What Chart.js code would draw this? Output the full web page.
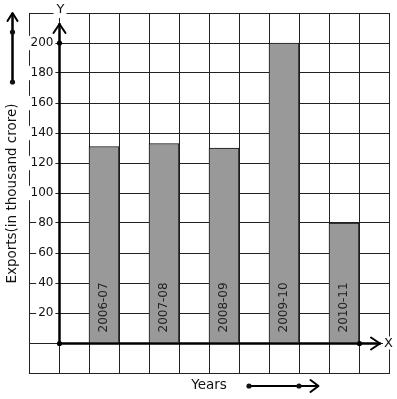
<!DOCTYPE html>
<html>
<head>
<meta charset="utf-8">
<script src="https://cdn.jsdelivr.net/npm/chart.js@4/dist/chart.umd.min.js"></script>
<style>
  html, body { margin: 0; padding: 0; background: #ffffff; }
  canvas { display: block; }
</style>
</head>
<body>
<canvas id="c" width="397" height="399"></canvas>
<script>
// ---- data ----
const years = ['2006-07', '2007-08', '2008-09', '2009-10', '2010-11'];
const exportsValues = [131, 133, 130, 200, 80];
const yTickLabels = [20, 40, 60, 80, 100, 120, 140, 160, 180, 200];
const yAxisTitle = 'Exports(in thousand crore)';
const xAxisTitle = 'Years';
const yMin = -20, yMax = 220, yStep = 20;
const slotCount = 12, firstSlot = 2, slotGap = 2;

// build the 12-column grid of categories (bars in every other column)
const slotLabels = new Array(slotCount).fill('');
const slotValues = new Array(slotCount).fill(null);
years.forEach((y, i) => {
  slotLabels[firstSlot + i * slotGap] = y;
  slotValues[firstSlot + i * slotGap] = exportsValues[i];
});

const FONT = 'DejaVu Sans';
Chart.defaults.font.family = FONT;
Chart.defaults.color = '#111';

function al(v) { return Math.round(v - 0.5) + 0.5; }

const decorPlugin = {
  id: 'decor',
  afterDatasetsDraw(chart) {
    const ctx = chart.ctx;
    const meta = chart.getDatasetMeta(0);
    ctx.save();
    ctx.font = '12px ' + FONT;
    ctx.fillStyle = '#222';
    ctx.textAlign = 'left';
    ctx.textBaseline = 'middle';
    meta.data.forEach((el, i) => {
      const lab = slotLabels[i];
      if (!lab || slotValues[i] == null) return;
      ctx.save();
      ctx.translate(el.x, el.base - 10);
      ctx.rotate(-Math.PI / 2);
      ctx.fillText(lab, 0, 0);
      ctx.restore();
    });
    ctx.restore();
  },
  afterDraw(chart) {
    const ctx = chart.ctx;
    const xs = chart.scales.x, ys = chart.scales.y;
    const ax = al((xs.getPixelForValue(0) + xs.getPixelForValue(1)) / 2);
    const ay = al(ys.getPixelForValue(0));
    const xEndDot = al((xs.getPixelForValue(slotCount - 2) + xs.getPixelForValue(slotCount - 1)) / 2);
    const yTopDot = ys.getPixelForValue(200);
    const area = chart.chartArea;

    ctx.save();
    ctx.strokeStyle = '#000';
    ctx.fillStyle = '#000';
    ctx.lineCap = 'round';
    ctx.lineJoin = 'round';

    // Y axis
    ctx.lineWidth = 2.5;
    ctx.beginPath();
    ctx.moveTo(ax, ay);
    ctx.lineTo(ax, area.top + 11);
    ctx.stroke();
    ctx.lineWidth = 2;
    ctx.beginPath();
    ctx.moveTo(ax - 6, area.top + 20);
    ctx.lineTo(ax, area.top + 11);
    ctx.lineTo(ax + 6, area.top + 20);
    ctx.stroke();

    // X axis
    ctx.lineWidth = 2.5;
    ctx.beginPath();
    ctx.moveTo(ax, ay);
    ctx.lineTo(area.right - 9, ay);
    ctx.stroke();
    ctx.lineWidth = 2;
    ctx.beginPath();
    ctx.moveTo(area.right - 18, ay - 6);
    ctx.lineTo(area.right - 9, ay);
    ctx.lineTo(area.right - 18, ay + 6);
    ctx.stroke();

    // dots
    [[ax, ay], [ax, yTopDot], [xEndDot, ay]].forEach(([x, y]) => {
      ctx.beginPath();
      ctx.arc(x, y, 2.6, 0, Math.PI * 2);
      ctx.fill();
    });

    // Y and X letters with white backgrounds
    ctx.font = '13px ' + FONT;
    ctx.textAlign = 'center';
    ctx.textBaseline = 'middle';
    ctx.fillStyle = '#fff';
    ctx.fillRect(ax - 6, area.top - 8, 13, 13);
    ctx.fillRect(area.right - 6, ay - 7, 12, 13);
    ctx.fillStyle = '#111';
    ctx.fillText('Y', ax + 1, area.top - 3);
    ctx.fillText('X', area.right - 0.5, ay);

    // Y title (rotated)
    ctx.font = '13.5px ' + FONT;
    ctx.save();
    ctx.translate(12, (area.top + area.bottom) / 2 + 0.5);
    ctx.rotate(-Math.PI / 2);
    ctx.fillText(yAxisTitle, 0, 0);
    ctx.restore();

    // left arrow
    ctx.lineWidth = 2.5;
    ctx.beginPath();
    ctx.moveTo(12.5, 82);
    ctx.lineTo(12.5, 14);
    ctx.stroke();
    ctx.lineWidth = 2;
    ctx.beginPath();
    ctx.moveTo(7.5, 21);
    ctx.lineTo(12.5, 13);
    ctx.lineTo(17.5, 21);
    ctx.stroke();
    [32, 82].forEach(y => {
      ctx.beginPath();
      ctx.arc(12.5, y, 2.6, 0, Math.PI * 2);
      ctx.fill();
    });

    // X title and arrow
    ctx.fillText(xAxisTitle, 209, 385);
    ctx.lineWidth = 2;
    ctx.beginPath();
    ctx.moveTo(249, 386);
    ctx.lineTo(317, 386);
    ctx.stroke();
    ctx.beginPath();
    ctx.moveTo(310.5, 380);
    ctx.lineTo(318.5, 386);
    ctx.lineTo(310.5, 392);
    ctx.stroke();
    [249, 299].forEach(x => {
      ctx.beginPath();
      ctx.arc(x, 386, 2.6, 0, Math.PI * 2);
      ctx.fill();
    });
    ctx.restore();
  }
};

new Chart(document.getElementById('c'), {
  type: 'bar',
  data: {
    labels: slotLabels,
    datasets: [{
      data: slotValues,
      backgroundColor: '#999999',
      borderColor: '#111111',
      borderWidth: 1,
      categoryPercentage: 1,
      barPercentage: 1
    }]
  },
  options: {
    responsive: false,
    animation: false,
    devicePixelRatio: 1,
    layout: { padding: { left: 29, top: 13, right: 8, bottom: 26 } },
    plugins: { legend: { display: false }, tooltip: { enabled: false } },
    scales: {
      x: {
        type: 'category',
        offset: true,
        grid: { offset: true, color: '#222', lineWidth: 1, drawTicks: false },
        border: { color: '#222', width: 1 },
        ticks: { display: false },
        afterFit(s) { s.height = 0; }
      },
      y: {
        min: yMin,
        max: yMax,
        grid: { color: '#222', lineWidth: 1, drawTicks: false },
        border: { color: '#222', width: 1 },
        ticks: {
          stepSize: yStep,
          mirror: true,
          crossAlign: 'far',
          padding: 1.5,
          color: '#111',
          font: { size: 12, family: FONT },
          callback: (v) => yTickLabels.includes(v) ? String(v) : '',
          showLabelBackdrop: (c) => c.tick && yTickLabels.includes(c.tick.value),
          backdropColor: '#ffffff',
          backdropPadding: { left: 2, right: 2, top: 0, bottom: 0 }
        },
        afterFit(s) { s.width = 0; }
      }
    }
  },
  plugins: [decorPlugin]
});
</script>
</body>
</html>
